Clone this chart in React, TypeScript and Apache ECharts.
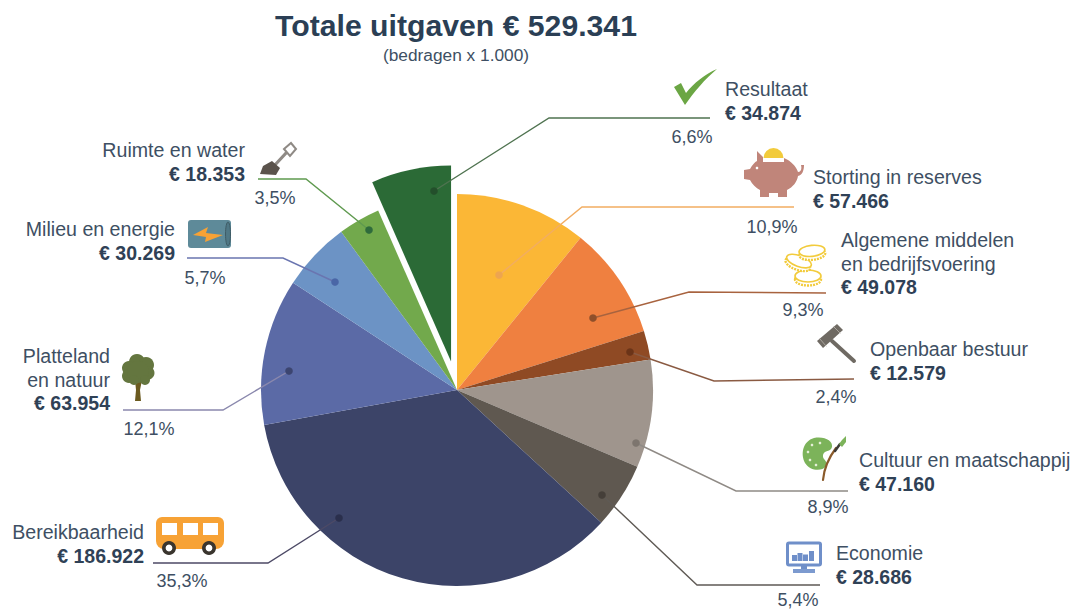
import React, { useEffect, useRef } from "react";
import * as echarts from "echarts";

const categories = [
  "Storting in reserves",
  "Algemene middelen\nen bedrijfsvoering",
  "Openbaar bestuur",
  "Cultuur en maatschappij",
  "Economie",
  "Bereikbaarheid",
  "Platteland\nen natuur",
  "Milieu en energie",
  "Ruimte en water",
  "Resultaat",
];
const values = [57466, 49078, 12579, 47160, 28686, 186922, 63954, 30269, 18353, 34874];
const sliceColors = ["#fbb736", "#ef8040", "#8f4a24", "#9f958d", "#5f5850", "#3c4468", "#5b6aa6", "#6c93c5", "#72a94c", "#2b6a36"];
const lineColors = ["#f2ad62", "#a8633f", "#8a5a42", "#8f8a85", "#5f5a55", "#4d4a66", "#8a88ad", "#6a75b0", "#5f9a4f", "#4f7350"];
const dotColors = ["#eda550", "#8f4f2a", "#6b3418", "#7d756e", "#453f39", "#2a2f4c", "#3c4570", "#4a66a6", "#2f6b3c", "#234f2b"];
const explodedIndex = 9;
const explodeOffset = 29;

// [text x, text y of first line centre, align]
const labelAnchors: [number, number, "left" | "right"][] = [
  [813, 177, "left"],
  [841, 240, "left"],
  [870, 349, "left"],
  [859, 460, "left"],
  [836, 553, "left"],
  [144, 532, "right"],
  [110, 356, "right"],
  [175, 229, "right"],
  [245, 150, "right"],
  [725, 89, "left"],
];
const leaderPoints: number[][][] = [
  [[499, 275], [582, 207], [794, 207]],
  [[593, 318], [689, 292], [826, 293]],
  [[630, 352], [714, 381], [854, 379]],
  [[636, 443], [736, 491], [848, 491]],
  [[602, 495], [697, 585], [820, 585]],
  [[339, 518], [268, 563], [153, 563]],
  [[289, 371], [223, 410], [123, 410]],
  [[335, 282], [283, 258], [187, 258]],
  [[369, 230], [306, 179], [258, 179]],
  [[434, 191], [549, 118], [710, 118]],
];
const percentAnchors: number[][] = [
  [772, 227], [803, 310], [836, 397], [828, 507], [798, 600],
  [182, 581], [149, 429], [205, 278], [275, 198], [692, 137],
];

const LINE_H = 23.5;
const TEXT_NAME = "#3e4f63";
const TEXT_VALUE = "#2f4156";
const FONT = "'Liberation Sans', Arial, sans-serif";
const CENTER = [457, 390];

const total = values.reduce((a, b) => a + b, 0);
const euro = (v: number) => "€ " + String(v).replace(/\B(?=(\d{3})+$)/g, ".");
const percent = (v: number) => ((v / total) * 100).toFixed(1).replace(".", ",") + "%";

const reg = (name: string, d: string) =>
  echarts.graphic.registerShape(name, echarts.graphic.extendPath(d, {}) as any);
reg("iconCheck", "M674 87 L681 83 L686 93 C694 83 705 74 717 69 C705 79 694 92 685 105 Z");
reg("iconPig", "M744 170 L750 169 C752 165 755 162 757 161 L757 151 L763 157 L763 162 L784 162 L784 158 C791 161 796 166 798 172 C801 172 802 169 801 165 L804 165 C804 171 802 175 798 176 C797 182 793 187 787 190 L787 197 L778 197 L778 193 L769 193 L769 197 L760 197 L760 190 C756 188 752 184 750 180 L744 179 Z");
reg("iconPalette", "M814 438 C825 436 833 441 832 447 C831 452 824 450 823 455 C822 460 829 461 826 466 C822 472 810 471 805 463 C800 454 803 441 814 438 Z");

function icons(): any[] {
  const stroke = (c: string, w: number) => ({ stroke: c, lineWidth: w, lineCap: "round", fill: "none" });
  const out: any[] = [];
  // Resultaat
  out.push({ type: "iconCheck", style: { fill: "#6ba644" } });
  // Storting
  out.push({ type: "iconPig", style: { fill: "#c0857a" } });
  out.push({ type: "circle", shape: { cx: 757, cy: 168, r: 1.3 }, style: { fill: "#fff" } });
  out.push({ type: "sector", shape: { cx: 773.5, cy: 158, r: 10, r0: 0, startAngle: Math.PI, endAngle: 0 }, style: { fill: "#f2cb3c" } });
  // Algemene
  [[808, 277, 13, 6, 0], [799, 262, 13, 5.5, 0.35], [812, 252, 13, 5.5, -0.1]].forEach(([cx, cy, rx, ry, rot]) => {
    const g = { originX: cx, originY: cy, rotation: -rot };
    out.push({ type: "ellipse", ...g, shape: { cx, cy: cy + 2.5, rx, ry }, style: { fill: "#fff", stroke: "#f2cb3c", lineWidth: 2.4, lineDash: [2, 1] } });
    out.push({ type: "ellipse", ...g, shape: { cx, cy: cy - 1, rx, ry }, style: { fill: "#fff", stroke: "#f2cb3c", lineWidth: 1.6 } });
  });
  // Openbaar
  out.push({ type: "line", shape: { x1: 832, y1: 341, x2: 854, y2: 361 }, style: stroke("#6f6a63", 4) });
  out.push({ type: "polygon", shape: { points: [[817, 341], [837, 324], [843, 330], [823, 348]] }, style: { fill: "#6f6a63" } });
  out.push({ type: "line", shape: { x1: 820, y1: 339, x2: 826, y2: 346 }, style: stroke("#a9a49d", 1) });
  out.push({ type: "line", shape: { x1: 834, y1: 327, x2: 840, y2: 333 }, style: stroke("#a9a49d", 1) });
  // Cultuur
  out.push({ type: "iconPalette", style: { fill: "#7cb35a" } });
  [[812, 445], [808, 452], [810, 460], [816, 465], [820, 443]].forEach(([cx, cy]) =>
    out.push({ type: "circle", shape: { cx, cy, r: 1.3 }, style: { fill: "#e6efd8" } })
  );
  out.push({ type: "bezierCurve", shape: { x1: 823, y1: 480, x2: 836, y2: 448, cpx1: 824, cpy1: 468, cpx2: 830, cpy2: 456 }, style: stroke("#8a5a2a", 2.2) });
  out.push({ type: "line", shape: { x1: 835, y1: 451, x2: 840, y2: 444 }, style: stroke("#3c3a36", 2.5) });
  out.push({ type: "polygon", shape: { points: [[839, 444], [842, 440], [846, 436], [846, 442], [842, 447]] }, style: { fill: "#7cb35a" } });
  // Economie
  out.push({ type: "rect", shape: { x: 787.5, y: 543, width: 33, height: 22, r: 1.5 }, style: { fill: "#fff", stroke: "#6f8fc9", lineWidth: 3 } });
  [[792, 6, 6], [797.5, 6, 8], [803, 6, 6.5], [809, 6, 10]].forEach(([x, w, h]) =>
    out.push({ type: "rect", shape: { x, y: 561 - h, width: w - 1, height: h }, style: { fill: "#6f8fc9" } })
  );
  out.push({ type: "rect", shape: { x: 801, y: 565, width: 6, height: 5 }, style: { fill: "#6f8fc9" } });
  out.push({ type: "rect", shape: { x: 793, y: 569, width: 22, height: 4 }, style: { fill: "#7c9acf" } });
  // Bereikbaarheid
  out.push({ type: "rect", shape: { x: 156, y: 517, width: 68, height: 32, r: [6, 6, 8, 8] }, style: { fill: "#f7a235" } });
  [162, 183, 203].forEach((x) =>
    out.push({ type: "rect", shape: { x, y: 523, width: 15, height: 12 }, style: { fill: "#fff" } })
  );
  [169, 209].forEach((cx) => {
    out.push({ type: "circle", shape: { cx, cy: 548, r: 7 }, style: { fill: "#3a352e" } });
    out.push({ type: "circle", shape: { cx, cy: 548, r: 3.4 }, style: { fill: "#fff" } });
  });
  // Platteland
  out.push({ type: "polygon", shape: { points: [[135, 380], [142, 380], [140, 390], [141, 401], [135, 401], [136, 390]] }, style: { fill: "#6b5a1f" } });
  [[137, 362, 8], [146, 365, 8], [129, 368, 7], [148, 373, 6.5], [129, 376, 7], [138, 372, 11], [145, 380, 5], [134, 380, 5]].forEach(([cx, cy, r]) =>
    out.push({ type: "circle", shape: { cx, cy, r }, style: { fill: "#64763f" } })
  );
  // Milieu
  out.push({ type: "rect", shape: { x: 188, y: 220, width: 43, height: 28, r: 3 }, style: { fill: "#5e8a99" } });
  out.push({ type: "ellipse", shape: { cx: 228, cy: 234, rx: 2.5, ry: 12 }, style: { fill: "#4f7785", stroke: "#3f5c66", lineWidth: 1 } });
  out.push({ type: "polygon", shape: { points: [[193, 235], [208, 227], [206, 233], [223, 235], [205, 242], [206, 237]] }, style: { fill: "#f7a235" } });
  // Ruimte
  out.push({ type: "line", shape: { x1: 274, y1: 166, x2: 287, y2: 152 }, style: stroke("#8f8a85", 3.2) });
  out.push({ type: "polygon", shape: { points: [[284, 149], [291, 143], [296, 149], [290, 156]] }, style: { fill: "#fff", stroke: "#8f8a85", lineWidth: 2 } });
  out.push({ type: "polygon", shape: { points: [[260, 174], [263, 166], [272, 161], [280, 168], [276, 175]] }, style: { fill: "#5b534c" } });
  return out;
}

export default function App() {
  const ref = useRef<HTMLDivElement>(null);
  useEffect(() => {
    const chart = echarts.init(ref.current!, undefined, { renderer: "svg" });
    const before = values.slice(0, explodedIndex).reduce((a, b) => a + b, 0);
    const midAngle = (2 * Math.PI * (before + values[explodedIndex] / 2)) / total;
    const explodedCenter = [
      CENTER[0] + explodeOffset * Math.sin(midAngle),
      CENTER[1] - explodeOffset * Math.cos(midAngle),
    ];
    chart.setOption({
      animation: false,
      backgroundColor: "#fff",
      title: [
        { text: "Totale uitgaven " + euro(total), left: 451, top: 5, textAlign: "center", textStyle: { fontFamily: FONT, fontSize: 30.2, fontWeight: "bold", color: "#2b3f55" } },
        { text: "(bedragen x 1.000)", left: 451, top: 41, textAlign: "center", textStyle: { fontFamily: FONT, fontSize: 17.3, fontWeight: "normal", color: TEXT_NAME } },
      ],
      series: [
        {
          type: "pie",
          center: explodedCenter,
          radius: [0, 196],
          startAngle: 90,
          silent: true,
          label: { show: false },
          labelLine: { show: false },
          emphasis: { disabled: true },
          data: categories.map((name, i) => ({
            name,
            value: values[i],
            itemStyle: { color: i === explodedIndex ? sliceColors[i] : "transparent" },
          })),
        },
        {
          type: "pie",
          center: CENTER,
          radius: [0, 196],
          startAngle: 90,
          clockwise: true,
          silent: true,
          avoidLabelOverlap: false,
          minShowLabelAngle: 0,
          emphasis: { disabled: true },
          label: {
            show: true,
            position: "outside",
            fontFamily: FONT,
            formatter: (p: any) =>
              String(p.name).split("\n").map((l) => `{n|${l}}`).join("\n") + `\n{v|${euro(p.value)}}`,
            rich: {
              n: { fontFamily: FONT, fontSize: 19.6, lineHeight: LINE_H, color: TEXT_NAME },
              v: { fontFamily: FONT, fontSize: 19.5, lineHeight: LINE_H, fontWeight: "bold", color: TEXT_VALUE },
            },
          },
          labelLine: { show: false },
          labelLayout: (p: any) => {
            const [x, y, align] = labelAnchors[p.dataIndex];
            return { x, y: y - LINE_H / 2, align, verticalAlign: "top" };
          },
          data: categories.map((name, i) => ({
            name,
            value: values[i],
            itemStyle: { color: i === explodedIndex ? "transparent" : sliceColors[i] },
          })),
        },
      ],
      graphic: [
        ...icons(),
        ...values.map((v, i) => ({
          type: "text",
          x: percentAnchors[i][0],
          y: percentAnchors[i][1],
          style: { text: percent(v), fill: TEXT_NAME, font: `18px ${FONT}`, textAlign: "center", textVerticalAlign: "middle" },
        })),
        ...leaderPoints.map((pts, i) => ({
          type: "polyline",
          z: 99,
          shape: { points: pts },
          style: { stroke: lineColors[i], lineWidth: 1.4, fill: "none" },
        })),
        ...leaderPoints.map((pts, i) => ({
          type: "circle",
          z: 100,
          shape: { cx: pts[0][0], cy: pts[0][1], r: 3.8 },
          style: { fill: dotColors[i] },
        })),
      ],
    });
    return () => chart.dispose();
  }, []);
  return <div ref={ref} style={{ position: "absolute", left: 0, top: 0, width: 1077, height: 609 }} />;
}
